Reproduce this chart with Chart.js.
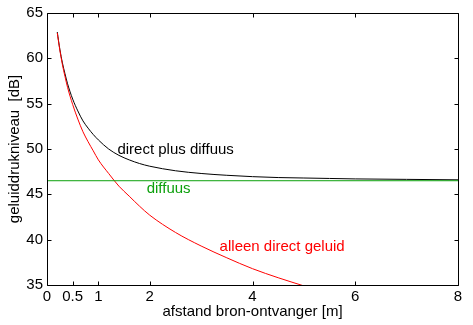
<!DOCTYPE html>
<html>
<head>
<meta charset="utf-8">
<script src="https://cdn.jsdelivr.net/npm/chart.js@4.4.1/dist/chart.umd.min.js"></script>
<style>
    html, body { margin: 0; padding: 0; background: #fff; }
    #wrap { width: 473px; height: 325px; }
</style>
</head>
<body>
<div id="wrap"><canvas id="chart" width="473" height="325"></canvas></div>
<script>
// afstand in meter
const distances = [0.2, 0.25, 0.3, 0.35, 0.4, 0.5, 0.6, 0.7, 0.8, 0.9, 1.0, 1.2, 1.4, 1.6, 1.8, 2.0, 2.5, 3.0, 3.5, 4.0, 4.5, 5.0, 5.5, 6.0, 7.0, 8.0];
// alleen direct geluid [dB]
const directLevel = [62.8, 60.9, 59.3, 58.0, 56.8, 54.9, 53.3, 51.9, 50.8, 49.8, 48.8, 47.3, 45.9, 44.8, 43.7, 42.7, 40.8, 39.3, 38.0, 36.8, 35.8, 34.9, 34.0, 33.3, 31.9, 30.8];
// direct plus diffuus [dB]
const totalLevel = [62.9, 61.0, 59.5, 58.3, 57.2, 55.5, 54.2, 53.1, 52.3, 51.6, 51.0, 50.0, 49.3, 48.8, 48.4, 48.1, 47.6, 47.3, 47.1, 46.95, 46.85, 46.8, 46.75, 46.7, 46.65, 46.6];
// diffuus veld [dB]
const diffuseX = [0, 8];
const diffuseLevel = [46.5, 46.5];

const xTickValues = [0, 0.5, 1, 2, 4, 6, 8];
const yTickValues = [35, 40, 45, 50, 55, 60, 65];

const curveLabels = [
    { text: 'direct plus diffuus', x: 1.37, y: 49.95, color: '#000000' },
    { text: 'diffuus', x: 1.94, y: 45.6, color: '#0ca00c' },
    { text: 'alleen direct geluid', x: 3.36, y: 39.25, color: '#ff0000' }
];

const FONT = '"Liberation Sans", Arial, sans-serif';

const toPoints = (xs, ys) => xs.map((x, i) => ({ x: x, y: ys[i] }));

// kader met naar binnen gerichte streepjes, zoals in matlab
const framePlugin = {
    id: 'frame',
    afterDatasetsDraw(chart) {
        const { ctx, chartArea: a, scales: { x, y } } = chart;
        const L = a.left + 0.5, R = a.right + 0.5, T = a.top + 0.5, B = a.bottom + 0.5;
        ctx.save();
        ctx.strokeStyle = '#000';
        ctx.lineWidth = 1;
        ctx.beginPath();
        ctx.rect(L, T, R - L, B - T);
        xTickValues.forEach(v => {
            const px = Math.round(x.getPixelForValue(v)) + 0.5;
            ctx.moveTo(px, B); ctx.lineTo(px, B - 4);
            ctx.moveTo(px, T); ctx.lineTo(px, T + 4);
        });
        yTickValues.forEach(v => {
            const py = Math.round(y.getPixelForValue(v)) + 0.5;
            ctx.moveTo(L, py); ctx.lineTo(L + 4, py);
            ctx.moveTo(R, py); ctx.lineTo(R - 4, py);
        });
        ctx.stroke();

        ctx.font = '15px ' + FONT;
        ctx.textBaseline = 'middle';
        ctx.textAlign = 'left';
        curveLabels.forEach(l => {
            ctx.fillStyle = l.color;
            ctx.fillText(l.text, x.getPixelForValue(l.x), y.getPixelForValue(l.y));
        });
        ctx.restore();
    }
};

const ctx = document.getElementById('chart').getContext('2d');
new Chart(ctx, {
    type: 'line',
    data: {
        datasets: [
            {
                label: 'diffuus',
                data: toPoints(diffuseX, diffuseLevel),
                borderColor: '#0ca00c',
                borderWidth: 1,
                pointRadius: 0,
                tension: 0
            },
            {
                label: 'alleen direct geluid',
                data: toPoints(distances, directLevel),
                borderColor: '#ff0000',
                borderWidth: 1,
                pointRadius: 0,
                cubicInterpolationMode: 'monotone'
            },
            {
                label: 'direct plus diffuus',
                data: toPoints(distances, totalLevel),
                borderColor: '#000000',
                borderWidth: 1,
                pointRadius: 0,
                cubicInterpolationMode: 'monotone'
            }
        ]
    },
    options: {
        responsive: false,
        animation: false,
        devicePixelRatio: 1,
        layout: { padding: { top: 10, right: 15, left: 0, bottom: 0 } },
        plugins: {
            legend: { display: false },
            tooltip: { enabled: false }
        },
        scales: {
            x: {
                type: 'linear',
                min: 0,
                max: 8,
                afterBuildTicks: (scale) => {
                    scale.ticks = xTickValues.map(v => ({ value: v }));
                },
                afterFit: (scale) => { scale.height = 40; },
                grid: { display: false, drawTicks: false },
                border: { display: false },
                ticks: {
                    color: '#000',
                    padding: 3,
                    maxRotation: 0,
                    autoSkip: false,
                    font: { family: FONT, size: 15 },
                    callback: (v) => String(v)
                },
                title: {
                    display: true,
                    text: 'afstand bron-ontvanger [m]',
                    color: '#000',
                    font: { family: FONT, size: 15 },
                    padding: { top: 0, bottom: 4 }
                }
            },
            y: {
                type: 'linear',
                min: 35,
                max: 65,
                afterBuildTicks: (scale) => {
                    scale.ticks = yTickValues.map(v => ({ value: v }));
                },
                afterFit: (scale) => { scale.width = 47; },
                grid: { display: false, drawTicks: false },
                border: { display: false },
                ticks: {
                    color: '#000',
                    padding: 4,
                    font: { family: FONT, size: 15 }
                },
                title: {
                    display: true,
                    text: 'geluiddrukniveau  [dB]',
                    color: '#000',
                    font: { family: FONT, size: 15 },
                    padding: { top: 6, bottom: 0 }
                }
            }
        }
    },
    plugins: [framePlugin]
});
</script>
</body>
</html>
